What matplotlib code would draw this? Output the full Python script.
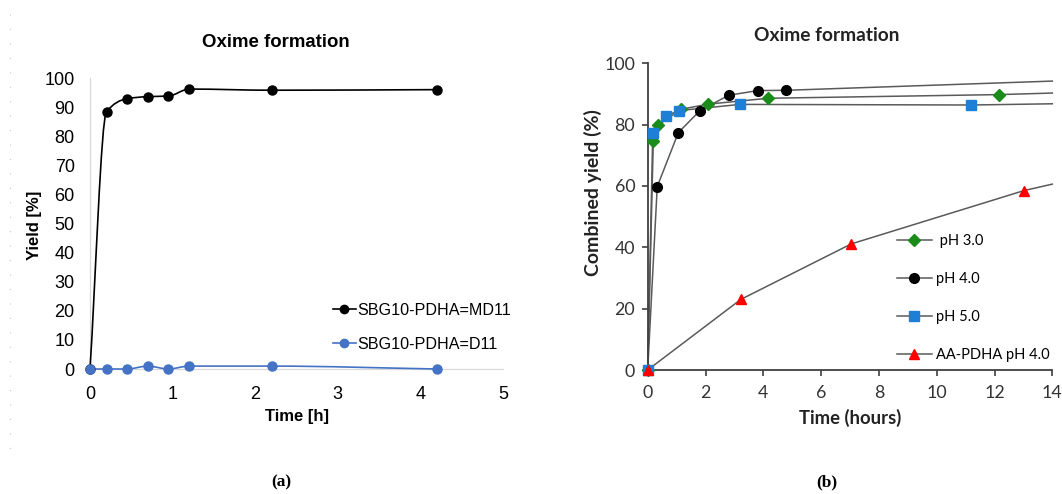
import numpy as np
import matplotlib
matplotlib.use("Agg")
import matplotlib.pyplot as plt
from matplotlib.path import Path
from matplotlib.patches import PathPatch
from matplotlib.lines import Line2D

# ---------------- data: panel (a) ----------------
a_time = [0, 0.2, 0.45, 0.7, 0.95, 1.2, 2.2, 4.2]
a_md11 = [0, 88.4, 92.9, 93.6, 93.8, 96.2, 95.8, 96.0]
a_d11 = [0, 0, 0, 1.0, 0, 1.0, 1.0, 0]
a_labels = ["SBG10-PDHA=MD11", "SBG10-PDHA=D11"]
a_xticks = [0, 1, 2, 3, 4, 5]
a_yticks = list(range(0, 101, 10))

# ---------------- data: panel (b) ----------------
ph3_t = [0, 0.17, 0.37, 1.15, 2.1, 4.17, 12.17]
ph3_y = [0, 74.8, 79.9, 85.0, 86.7, 88.6, 89.8]
ph4_t = [0, 0.33, 1.06, 1.81, 2.81, 3.81, 4.80]
ph4_y = [0, 59.8, 77.4, 84.6, 89.6, 91.1, 91.2]
ph5_t = [0, 0.2, 0.63, 1.1, 3.2, 11.2]
ph5_y = [0, 77.2, 82.9, 84.6, 86.6, 86.4]
aa_t = [0, 3.22, 7.04, 13.02]
aa_y = [0, 23.0, 41.1, 58.5]
# trend lines continue to the end of the time axis
trend_end_t = 14
ph3_end = 90.3
ph4_end = 94.2
ph5_end = 86.8
aa_end = 60.6
b_labels = [" pH 3.0", "pH 4.0", "pH 5.0", "AA-PDHA pH 4.0"]
b_xticks = list(range(0, 15, 2))
b_yticks = list(range(0, 101, 20))

W, H = 1062, 494
fig = plt.figure(figsize=(W / 100, H / 100), dpi=100)


def smooth_path(x, y):
    """Monotone cubic (PCHIP-style) curve through the points as Bezier segments."""
    x = np.asarray(x, float)
    y = np.asarray(y, float)
    h = np.diff(x)
    d = np.diff(y) / h
    n = len(x)
    m = np.zeros(n)
    for i in range(1, n - 1):
        if d[i - 1] * d[i] <= 0:
            m[i] = 0
        else:
            w1 = 2 * h[i] + h[i - 1]
            w2 = h[i] + 2 * h[i - 1]
            m[i] = (w1 + w2) / (w1 / d[i - 1] + w2 / d[i])
    m[0] = d[0]
    m[-1] = d[-1]
    verts = [(x[0], y[0])]
    codes = [Path.MOVETO]
    for i in range(n - 1):
        verts += [(x[i] + h[i] / 3, y[i] + m[i] * h[i] / 3),
                  (x[i + 1] - h[i] / 3, y[i + 1] - m[i + 1] * h[i] / 3),
                  (x[i + 1], y[i + 1])]
        codes += [Path.CURVE4] * 3
    return Path(verts, codes)


# ================= panel (a) =================
fa = "Liberation Sans"
axa = fig.add_axes([90 / W, (H - 369) / H, 413 / W, 291 / H])
axa.set_xlim(0, 5)
axa.set_ylim(0, 100)
for s in ["top", "right"]:
    axa.spines[s].set_visible(False)
for s in ["left", "bottom"]:
    axa.spines[s].set_color("#d9d9d9")
    axa.spines[s].set_linewidth(0.9)
axa.tick_params(length=0, labelsize=13, colors="#000000")
axa.tick_params(axis="y", pad=11)
axa.tick_params(axis="x", pad=12)
axa.set_xticks(a_xticks)
axa.set_yticks(a_yticks)
for lab in axa.get_xticklabels() + axa.get_yticklabels():
    lab.set_fontfamily(fa)

cols_a = ["#000000", "#4472c4"]
for ys, c, lab in zip([a_md11, a_d11], cols_a, a_labels):
    axa.add_patch(PathPatch(smooth_path(a_time, ys), fill=False, edgecolor=c,
                            linewidth=1.2, clip_on=False, zorder=3))
    axa.plot(a_time, ys, linestyle="none", marker="o", markersize=6.5,
             color=c, clip_on=False, zorder=4)

handles_a = [Line2D([], [], color=c, marker="o", markersize=6, linewidth=1.2)
             for c in cols_a]
axa.legend(handles_a, a_labels, loc="upper left",
           bbox_to_anchor=((333 - 90) / 413, (369 - 303) / 291),
           frameon=False, borderpad=0, handlelength=1.4, handletextpad=0.12,
           labelspacing=1.15, borderaxespad=0,
           prop={"family": fa, "size": 11.6})

axa.text((276 - 90) / 413, (369 - 42) / 291, "Oxime formation",
         transform=axa.transAxes, ha="center", va="center",
         fontsize=13.4, fontweight="bold", family=fa)
axa.set_xlabel("Time [h]", fontsize=12, fontweight="bold", family=fa)
axa.xaxis.label.set_va("center")
axa.xaxis.set_label_coords((297 - 90) / 413, (369 - 416) / 291)
axa.set_ylabel("Yield [%]", fontsize=12, fontweight="bold", family=fa)
axa.yaxis.label.set_va("center")
axa.yaxis.set_label_coords((35 - 90) / 413, (369 - 225) / 291)

# faint dotted border at the far left
fig.add_artist(Line2D([10 / W, 10 / W], [1 - 14 / H, 1 - 450 / H],
                      transform=fig.transFigure, color="#c8c8c8",
                      linewidth=0.8, linestyle=(0, (1, 12))))

# ================= panel (b) =================
fb = "Lato"
axb = fig.add_axes([647.7 / W, (H - 370) / H, 404.6 / W, 306.7 / H])
axb.set_xlim(0, 14)
axb.set_ylim(0, 100)
for s in ["top", "right"]:
    axb.spines[s].set_visible(False)
for s in ["left", "bottom"]:
    axb.spines[s].set_color("#404040")
    axb.spines[s].set_linewidth(1.3)
axb.tick_params(direction="out", length=4, width=1.2, color="#404040",
                labelsize=12.8, labelcolor="#333333")
axb.tick_params(axis="y", pad=5)
axb.tick_params(axis="x", pad=7)
axb.set_xticks(b_xticks)
axb.set_yticks(b_yticks)
for lab in axb.get_xticklabels() + axb.get_yticklabels():
    lab.set_fontfamily(fb)

series_b = [
    (ph3_t, ph3_y, ph3_end, "D", "#1a8c1a", 6.0),
    (ph4_t, ph4_y, ph4_end, "o", "#000000", 7.0),
    (ph5_t, ph5_y, ph5_end, "s", "#1e7fd6", 7.0),
    (aa_t, aa_y, aa_end, "^", "#ff0000", 7.5),
]
line_col = "#5a5a5a"
for t, y, e, mk, c, ms in series_b:
    axb.plot(list(t) + [trend_end_t], list(y) + [e], color=line_col,
             linewidth=1.1, zorder=2, clip_on=False)
for t, y, e, mk, c, ms in series_b:
    axb.plot(t, y, linestyle="none", marker=mk, markersize=ms, color=c,
             clip_on=False, zorder=4)

handles_b = [Line2D([], [], color=line_col, linewidth=1.1, marker=mk,
                    markersize=ms, markerfacecolor=c, markeredgecolor=c)
             for t, y, e, mk, c, ms in series_b]
axb.legend(handles_b, b_labels, loc="upper left",
           bbox_to_anchor=((897 - 647.7) / 404.6, (370 - 234) / 306.7),
           frameon=False, borderpad=0, handlelength=2.4, handletextpad=0.28,
           labelspacing=1.64, borderaxespad=0, numpoints=1,
           prop={"family": fb, "size": 10.5})

axb.text((826.7 - 647.7) / 404.6, (370 - 35) / 306.7, "Oxime formation",
         transform=axb.transAxes, ha="center", va="center",
         fontsize=13.8, fontweight="bold", family=fb, color="#222222")
axb.set_xlabel("Time (hours)", fontsize=13.3, fontweight="bold", family=fb,
               color="#222222")
axb.xaxis.label.set_va("center")
axb.xaxis.set_label_coords((850 - 647.7) / 404.6, (370 - 418) / 306.7)
axb.set_ylabel("Combined yield (%)", fontsize=14, fontweight="bold",
               family=fb, color="#222222")
axb.yaxis.label.set_va("center")
axb.yaxis.set_label_coords((593 - 647.7) / 404.6, (370 - 193) / 306.7)

# panel letters
fig.text(281 / W, 1 - 482 / H, "(a)", ha="center", va="center",
         family="Liberation Serif", fontweight="bold", fontsize=12.5)
fig.text(826.7 / W, 1 - 482 / H, "(b)", ha="center", va="center",
         family="Liberation Serif", fontweight="bold", fontsize=12.5)

fig.savefig("out.png", dpi=100, facecolor="white")
